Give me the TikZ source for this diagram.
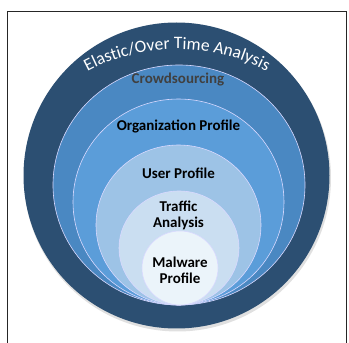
\documentclass[tikz,border=0pt]{standalone}
\usepackage{fontspec}
\setmainfont{Carlito}
\usetikzlibrary{decorations.text}

\definecolor{ringnavy}{HTML}{2C4F72}
\definecolor{crowdblue}{HTML}{4A88C2}
\definecolor{orgblue}{HTML}{5B9DD9}
\definecolor{userblue}{HTML}{9DC3E6}
\definecolor{trafficblue}{HTML}{CADEF1}
\definecolor{malwareblue}{HTML}{EBF4FA}

\begin{document}
\begin{tikzpicture}[x=1pt, y=1pt,
        layer/.style={draw=white!85!blue, line width=0.6pt},
        layertext/.style={font=\bfseries\fontsize{15}{16}\selectfont, align=center, text=black}
    ]
    \useasboundingbox (0,0) rectangle (349,343);
    \draw[line width=0.9pt, black!85] (7,332) rectangle (346.5,-5);

    % outer ring and its shadow
    \fill[black!20, opacity=0.6] (177.5,165) circle (153.5);
    \fill[ringnavy] (176.5,167.5) circle (153);

    % nested layers, all touching at the bottom
    \filldraw[layer, fill=crowdblue] (179,158) ellipse (126 and 120);
    \filldraw[layer, fill=orgblue] (178.5,141) ellipse (105.5 and 103);
    \filldraw[layer, fill=userblue] (178.5,118) ellipse (82.5 and 80);
    \filldraw[layer, fill=trafficblue] (179,95) ellipse (60 and 57);
    \filldraw[layer, fill=malwareblue] (180,75) ellipse (38 and 37);

    % curved title on the outer ring
    \path[decorate, decoration={text along path, text align=center,
        text={|\fontsize{17.5}{20}\selectfont\color{white}|Elastic/Over Time Analysis}}]
        (177pt,105pt) ++(128:189pt) arc[start angle=128, end angle=52, radius=189pt];

    \node[layertext, text=black!75] (crowd) at (178,263) {Crowdsourcing};
    \node[layertext] (org) at (178.5,216) {Organization Profile};
    \node[layertext] (user) at (178.5,170) {User Profile};
    \node[layertext] (traffic) at (178.5,128) {Traffic\\Analysis};
    \node[layertext] (malware) at (180,73) {Malware\\Profile};
\end{tikzpicture}
\end{document}
